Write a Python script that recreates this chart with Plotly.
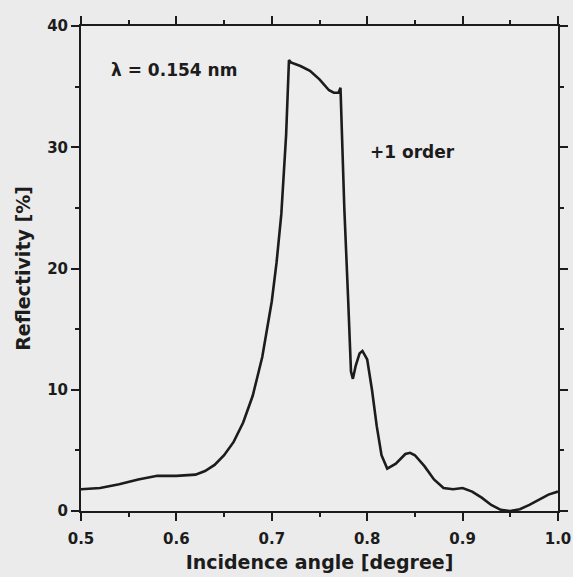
import plotly.graph_objects as go

angle = [0.50, 0.52, 0.54, 0.56, 0.58, 0.60, 0.62, 0.63, 0.64, 0.65, 0.66, 0.67, 0.68, 0.69,
         0.70, 0.705, 0.71, 0.715, 0.718, 0.72, 0.73, 0.74, 0.75, 0.76, 0.765, 0.77, 0.772,
         0.776, 0.78, 0.783, 0.785, 0.788, 0.792, 0.795, 0.80, 0.805, 0.81, 0.815, 0.821,
         0.83, 0.84, 0.845, 0.85, 0.86, 0.87, 0.88, 0.89, 0.90, 0.91, 0.92, 0.93, 0.94,
         0.95, 0.96, 0.97, 0.98, 0.99, 1.00]
reflectivity = [1.8, 1.9, 2.2, 2.6, 2.9, 2.9, 3.0, 3.3, 3.8, 4.6, 5.7, 7.3, 9.5, 12.7,
                17.3, 20.5, 24.5, 31.0, 37.2, 37.0, 36.7, 36.3, 35.6, 34.7, 34.5, 34.5, 34.9,
                25.0, 17.5, 11.5, 10.9, 12.0, 13.0, 13.2, 12.5, 10.0, 7.0, 4.6, 3.5,
                3.9, 4.7, 4.8, 4.6, 3.7, 2.6, 1.9, 1.8, 1.9, 1.6, 1.1, 0.5, 0.1,
                0.0, 0.15, 0.5, 0.95, 1.35, 1.6]

x_ticks = [0.5, 0.6, 0.7, 0.8, 0.9, 1.0]
x_labels = ["0.5", "0.6", "0.7", "0.8", "0.9", "1.0"]
y_ticks = [0, 10, 20, 30, 40]

ink = "#1c1c1c"
font_b = "DejaVu Sans"

fig = go.Figure()
fig.add_trace(go.Scatter(x=angle, y=reflectivity, mode="lines",
                         line=dict(color=ink, width=2.6), showlegend=False))

axis_common = dict(showline=True, linecolor=ink, linewidth=2, mirror="ticks",
                   ticks="outside", tickcolor=ink, tickwidth=2, ticklen=8,
                   showgrid=False, zeroline=False, automargin=False,
                   tickfont=dict(family=font_b, size=15, color=ink))

fig.update_xaxes(range=[0.5, 1.0], tickvals=x_ticks, ticktext=["<b>%s</b>" % t for t in x_labels],
                 minor=dict(dtick=0.05, ticks="outside", ticklen=4, tickwidth=2, tickcolor=ink),
                 ticklabelstandoff=5,
                 title=dict(text="<b>Incidence angle [degree]</b>", font=dict(family=font_b, size=19, color=ink),
                            standoff=9),
                 **axis_common)
fig.update_yaxes(range=[0, 40], tickvals=y_ticks, ticktext=["<b>%d</b>" % t for t in y_ticks],
                 minor=dict(dtick=5, ticks="outside", ticklen=4, tickwidth=2, tickcolor=ink),
                 title=dict(text="<b>Reflectivity [%]</b>", font=dict(family=font_b, size=19, color=ink),
                            standoff=11),
                 **axis_common)

fig.add_annotation(x=0.529, y=36.4, xref="x", yref="y", text="<b>λ = 0.154 nm</b>", showarrow=False,
                   xanchor="left", font=dict(family=font_b, size=17, color=ink))
fig.add_annotation(x=0.801, y=29.6, xref="x", yref="y", text="<b>+1 order</b>", showarrow=False,
                   xanchor="left", font=dict(family=font_b, size=17, color=ink))

fig.update_layout(width=573, height=577, margin=dict(l=81, r=15, t=26, b=66),
                  paper_bgcolor="#ebebeb", plot_bgcolor="#ededed")

fig.write_html("out.html")
